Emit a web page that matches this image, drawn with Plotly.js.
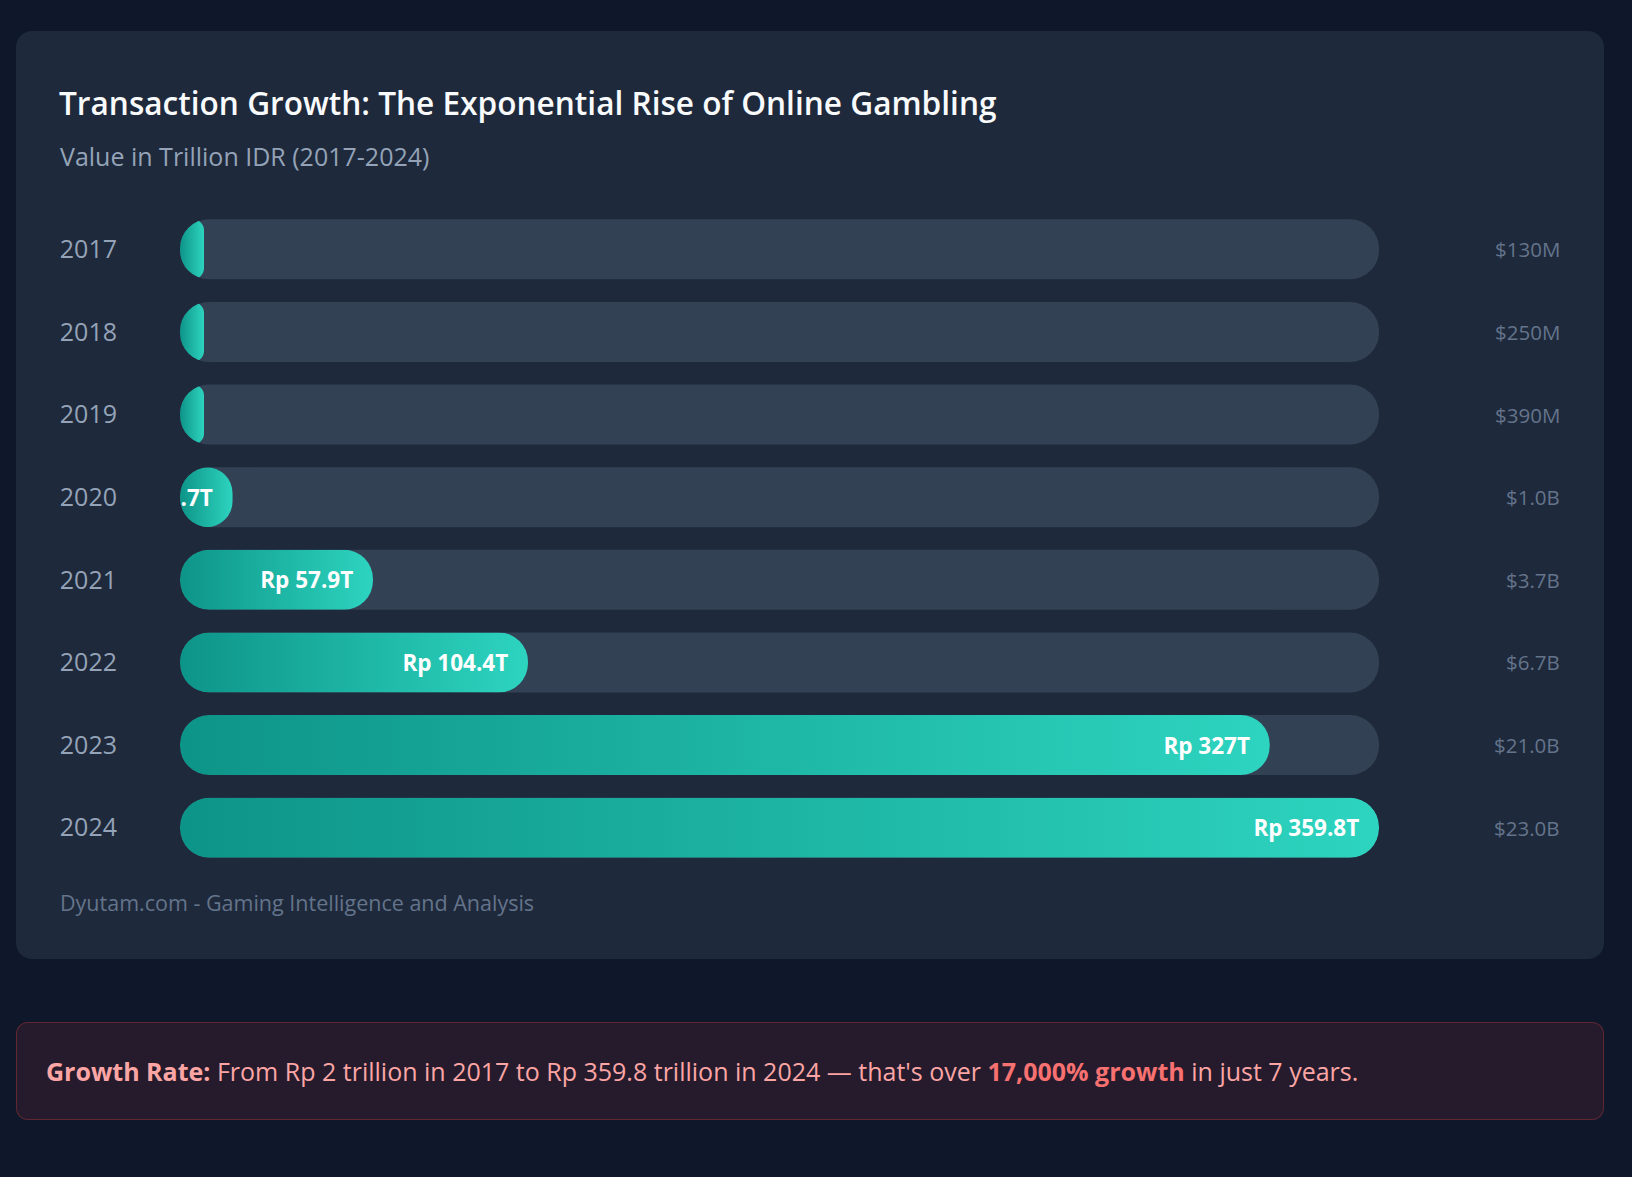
<!DOCTYPE html>
<html>
<head>
<meta charset="utf-8">
<script src="https://cdn.plot.ly/plotly-3.0.1.min.js"></script>
<style>
  body {
    margin: 0;
    width: 1632px;
    height: 1177px;
    background: #0f172a;
    font-family: "Segoe UI", "Open Sans", sans-serif;
    position: relative;
    overflow: hidden;
  }
  #card {
    position: absolute;
    left: 16px;
    top: 31px;
    width: 1588px;
    height: 928px;
    border-radius: 16px;
    background: #1e293b;
  }
  #graphDiv {
    width: 1588px;
    height: 928px;
  }
  #growth {
    position: absolute;
    left: 16px;
    top: 1022px;
    width: 1588px;
    height: 98px;
    box-sizing: border-box;
    border: 1px solid rgba(239, 68, 68, 0.3);
    border-radius: 12px;
    background: rgba(239, 68, 68, 0.1);
    display: flex;
    align-items: center;
    padding-left: 29px;
    font-size: 25px;
    color: #fca5a5;
  }
  #growth b { font-weight: 700; }
  #growth .hot { color: #f87171; }
</style>
</head>
<body>
<div id="card"><div id="graphDiv"></div></div>
<div id="growth">
  <span><b>Growth Rate:</b> From Rp 2 trillion in 2017 to Rp 359.8 trillion in 2024 — that's over <b class="hot">17,000% growth</b> in just 7 years.</span>
</div>

<script>
let years = ["2017", "2018", "2019", "2020", "2021", "2022", "2023", "2024"];
let valuesT = [2, 3.97, 6.18, 15.77, 57.91, 104.42, 327, 359.8];
let labels = ["Rp 2T", "Rp 4T", "Rp 6.2T", "Rp 15.7T", "Rp 57.9T", "Rp 104.4T", "Rp 327T", "Rp 359.8T"];
let usd = ["$130M", "$250M", "$390M", "$1.0B", "$3.7B", "$6.7B", "$21.0B", "$23.0B"];

let maxV = Math.max(...valuesT);
// the fill never gets thinner than 2% of the track
let shown = valuesT.map((v) => Math.max(v, maxV * 0.02));

let radius = 30;

let common = {
  type: "bar",
  orientation: "h",
  y: years,
  hoverinfo: "skip",
  showlegend: false,
};

// with an explicit base plotly rounds both ends, which gives the pill shape
let traces = [
  {
    ...common,
    base: years.map(() => 0),
    x: years.map(() => maxV),
    marker: { color: "#334155", cornerradius: radius, line: { width: 0 } },
  },
  {
    ...common,
    base: years.map(() => 0),
    x: shown,
    marker: { color: "#14b8a6", cornerradius: radius, line: { width: 0 } },
  },
  {
    type: "scatter",
    mode: "markers+text",
    x: shown,
    y: years,
    text: labels.map((t, i) => (shown[i] > maxV * 0.03 ? t : "")),
    textposition: "middle left",
    textfont: { color: "#ffffff", size: 22.5, weight: 700 },
    marker: { size: 30, opacity: 0 },
    cliponaxis: true,
    hoverinfo: "skip",
    showlegend: false,
  },
];

// annotation y on a category axis is the category index
let annotations = usd.map((u, i) => ({
  x: 1.1525,
  xref: "paper",
  xanchor: "right",
  y: i,
  yref: "y",
  text: u,
  showarrow: false,
  font: { size: 20.5, color: "#64748b" },
}));

annotations.push({
  x: -0.1017,
  xref: "paper",
  xanchor: "left",
  y: 1 + 52 / 661,
  yref: "paper",
  yanchor: "middle",
  text: "Value in Trillion IDR (2017-2024)",
  showarrow: false,
  font: { size: 25, color: "#94a3b8" },
});

annotations.push({
  x: -0.1017,
  xref: "paper",
  xanchor: "left",
  y: -0.05,
  yref: "paper",
  yanchor: "middle",
  text: "Dyutam.com - Gaming Intelligence and Analysis",
  showarrow: false,
  font: { size: 21.5, color: "#64748b" },
});

let layout = {
  width: 1588,
  height: 928,
  paper_bgcolor: "rgba(0,0,0,0)",
  plot_bgcolor: "rgba(0,0,0,0)",
  font: { family: '"Segoe UI", "Open Sans", sans-serif' },
  margin: { l: 164, r: 225, t: 177, b: 90 },
  barmode: "overlay",
  bargap: 0.274,
  title: {
    text: "Transaction Growth: The Exponential Rise of Online Gambling",
    font: { size: 31.6, color: "#f8fafc", weight: 600 },
    x: 43 / 1588,
    xref: "container",
    xanchor: "left",
    y: 1 - 73 / 928,
    yref: "container",
    yanchor: "middle",
  },
  xaxis: {
    range: [0, maxV],
    visible: false,
    fixedrange: true,
  },
  yaxis: {
    type: "category",
    categoryorder: "array",
    categoryarray: years,
    range: [years.length - 0.5, -0.5],
    showgrid: false,
    zeroline: false,
    showline: false,
    ticks: "",
    ticklabelstandoff: 62,
    tickfont: { size: 25, color: "#94a3b8" },
    fixedrange: true,
  },
  annotations: annotations,
};

function paintGradients(gd) {
  let xa = gd._fullLayout.xaxis;
  let svg = gd.querySelector(".main-svg");
  let ns = "http://www.w3.org/2000/svg";
  let defs = svg.querySelector("defs") || svg.insertBefore(document.createElementNS(ns, "defs"), svg.firstChild);

  shown.forEach((v, i) => {
    let grad = document.createElementNS(ns, "linearGradient");
    grad.setAttribute("id", "tealFill" + i);
    grad.setAttribute("gradientUnits", "userSpaceOnUse");
    grad.setAttribute("x1", xa.c2p(0));
    grad.setAttribute("x2", xa.c2p(v));
    grad.setAttribute("y1", 0);
    grad.setAttribute("y2", 0);
    [["0", "#0d9488"], ["1", "#2dd4bf"]].forEach(([off, col]) => {
      let stop = document.createElementNS(ns, "stop");
      stop.setAttribute("offset", off);
      stop.setAttribute("stop-color", col);
      grad.appendChild(stop);
    });
    defs.appendChild(grad);
  });

  let barTraces = gd.querySelectorAll(".barlayer .trace");

  // the fill is cut by the track outline, like an overflow-hidden track
  let clip = document.createElementNS(ns, "clipPath");
  clip.setAttribute("id", "trackClip");
  barTraces[0].querySelectorAll(".point path").forEach((p) => {
    let c = document.createElementNS(ns, "path");
    c.setAttribute("d", p.getAttribute("d"));
    clip.appendChild(c);
  });
  defs.appendChild(clip);
  barTraces[1].setAttribute("clip-path", "url(#trackClip)");

  barTraces[1].querySelectorAll(".point").forEach((pt, k) => {
    let i = pt.__data__ && pt.__data__.i !== undefined ? pt.__data__.i : k;
    let path = pt.querySelector("path");
    if (path) path.style.fill = "url(#tealFill" + i + ")";
  });

  // nudge the value labels down a touch to sit centred in the bar
  gd.querySelectorAll(".scatterlayer .textpoint text").forEach((t) => {
    t.setAttribute("y", parseFloat(t.getAttribute("y")) + 3);
  });
}

Plotly.newPlot("graphDiv", traces, layout, { displayModeBar: false, staticPlot: true }).then(paintGradients);
</script>
</body>
</html>
